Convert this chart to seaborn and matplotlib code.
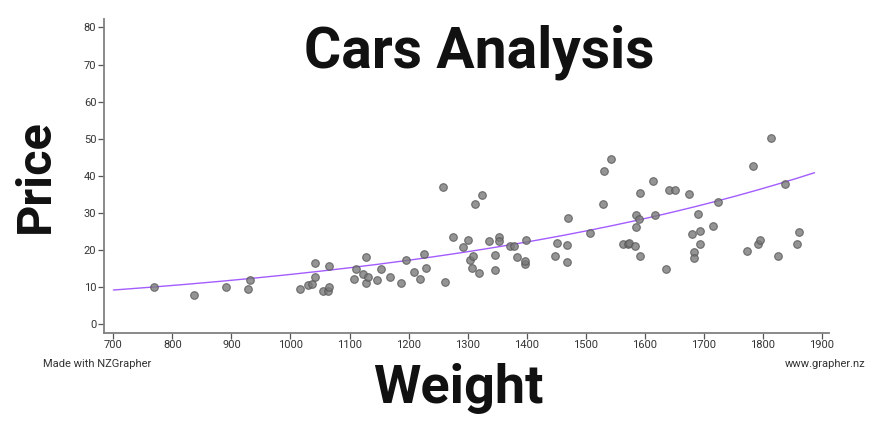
import numpy as np
import pandas as pd
import matplotlib
matplotlib.use("Agg")
import matplotlib.pyplot as plt
import seaborn as sns

# Valores
weight = [769, 837, 891, 928, 932, 1016, 1029, 1036, 1041, 1041, 1055, 1064, 1066, 1066,
          1107, 1111, 1123, 1128, 1128, 1132, 1147, 1154, 1168, 1187, 1196, 1210, 1220, 1226,
          1229, 1259, 1262, 1275, 1292, 1300, 1305, 1310, 1308, 1313, 1320, 1324, 1337, 1347,
          1347, 1354, 1354, 1372, 1379, 1383, 1397, 1398, 1399, 1449, 1451, 1469, 1469, 1471,
          1507, 1530, 1532, 1543, 1564, 1572, 1574, 1583, 1585, 1585, 1591, 1593, 1593, 1614,
          1618, 1636, 1641, 1651, 1675, 1681, 1684, 1684, 1691, 1694, 1694, 1716, 1725, 1773,
          1784, 1792, 1796, 1814, 1826, 1838, 1859, 1862]
price = [10.0, 7.8, 10.0, 9.4, 11.8, 9.4, 10.5, 10.9, 16.4, 12.8, 9.0, 9.0, 9.9, 15.7,
         12.3, 14.9, 13.4, 18.2, 11.2, 12.8, 11.9, 14.8, 12.7, 11.0, 17.3, 14.1, 12.2, 18.8,
         15.2, 37.0, 11.3, 23.6, 20.9, 22.6, 17.3, 18.3, 15.2, 32.4, 13.9, 34.8, 22.5, 18.6,
         14.6, 23.4, 22.4, 21.1, 21.1, 18.2, 16.3, 17.1, 22.6, 18.3, 21.9, 21.3, 16.7, 28.5,
         24.7, 32.3, 41.4, 44.6, 21.5, 21.7, 21.8, 21.1, 29.4, 26.2, 28.4, 35.5, 18.3, 38.6,
         29.4, 14.8, 36.2, 36.1, 35.2, 24.3, 19.5, 17.9, 29.8, 25.2, 21.6, 26.5, 33.0, 19.6,
         42.6, 21.6, 22.6, 50.3, 18.5, 37.7, 21.5, 24.8]

# Curva de tendência exponencial (price = a * e^(b*weight)), coeficientes
trend_a = 3.827
trend_b = 0.001254
trend_range = [700, 1888]

x_ticks = list(range(700, 2000, 100))
y_ticks = list(range(0, 90, 10))

df = pd.DataFrame({"Weight": weight, "Price": price})
fit_x = np.linspace(trend_range[0], trend_range[1], 200)
fit = pd.DataFrame({"Weight": fit_x, "Price": trend_a * np.exp(trend_b * fit_x)})

sns.set_style("white")
plt.rcParams["font.family"] = ["Roboto", "DejaVu Sans"]

fig = plt.figure(figsize=(8.92, 4.25), dpi=100)
ax = fig.add_axes([104 / 892, 1 - 332.7 / 425, (829.3 - 104) / 892, (332.7 - 19.3) / 425])

sns.scatterplot(data=df, x="Weight", y="Price", ax=ax, s=30, color="#7a7a7a",
                alpha=0.8, edgecolor="#555555", linewidth=0.8, zorder=3)
sns.lineplot(data=fit, x="Weight", y="Price", ax=ax, color="#a35cff", linewidth=1.0, zorder=2)

ax.set_xlim(684, 1913)
ax.set_ylim(-2.3, 82.2)
ax.set_xticks(x_ticks)
ax.set_yticks(y_ticks)
ax.set_xlabel("")
ax.set_ylabel("")
for s in ["top", "right"]:
    ax.spines[s].set_visible(False)
for s in ["left", "bottom"]:
    ax.spines[s].set_color("#808080")
    ax.spines[s].set_linewidth(1.3)
ax.tick_params(axis="both", direction="out", length=4, width=0.9, color="#555555",
               labelsize=8, labelcolor="#333333", pad=1.5)
ax.tick_params(axis="x", bottom=True)
ax.tick_params(axis="y", left=True)

fig.text(479 / 892, 1 - 67 / 425, "Cars Analysis", ha="center", va="baseline",
         fontsize=41, fontweight="bold", color="#111111")
fig.text(458 / 892, 1 - 403 / 425, "Weight", ha="center", va="baseline",
         fontsize=39, fontweight="bold", color="#111111")
fig.text(59 / 892, 1 - 176 / 425, "Price", ha="right", va="center", rotation=90,
         fontsize=35, fontweight="bold", color="#111111")
fig.text(43 / 892, 1 - 364 / 425, "Made with NZGrapher", ha="left", va="center",
         fontsize=8, color="#333333")
fig.text(865 / 892, 1 - 364 / 425, "www.grapher.nz", ha="right", va="center",
         fontsize=8, color="#333333")

fig.savefig("out.png", dpi=100)
